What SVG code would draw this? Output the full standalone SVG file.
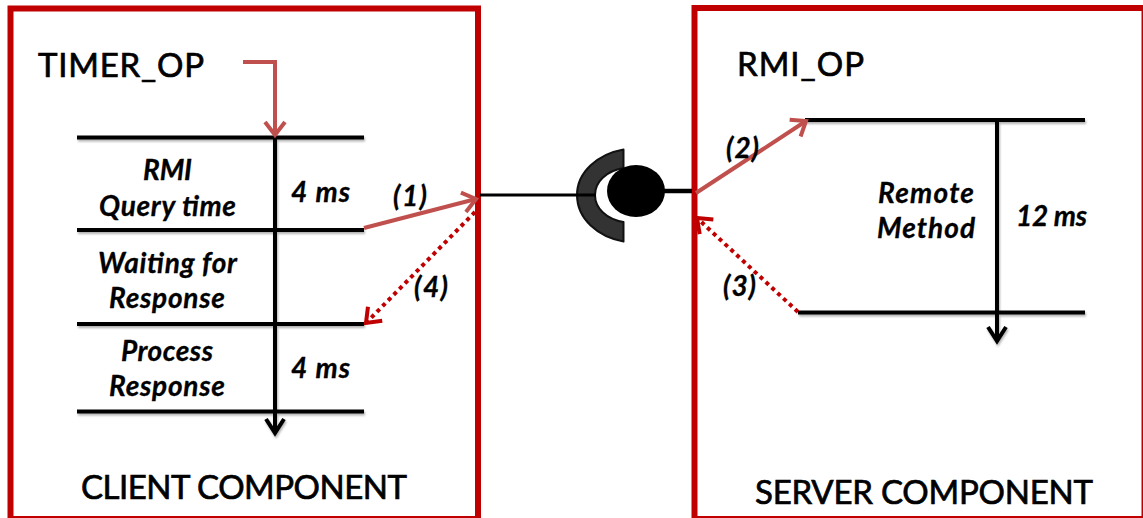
<svg xmlns="http://www.w3.org/2000/svg" width="1143" height="518" viewBox="0 0 1143 518">
  <style>
    text { font-family: Lato, Carlito, "Open Sans", sans-serif; fill: #000; }
    .title { font-size: 33px; font-weight: 400; stroke: #000; stroke-width: 0.7px; }
    .lab { font-size: 28px; font-weight: 700; font-style: italic; stroke: #000; stroke-width: 0.3px; }
    .box { fill: #fff; stroke: #c00000; stroke-width: 6; }
    .bars { filter: url(#sh); }
    .bar { stroke: #000; stroke-width: 4; fill: none; }
    .call { stroke: #c0504d; stroke-width: 4; fill: none; marker-end: url(#ah); }
    .ret { stroke: #c00000; stroke-width: 4; stroke-dasharray: 4 4; fill: none; marker-end: url(#rh); }
  </style>
  <defs>
    <filter id="sh" x="0" y="0" width="1143" height="518" filterUnits="userSpaceOnUse">
      <feDropShadow dx="1" dy="2" stdDeviation="1.2" flood-color="#000" flood-opacity="0.3"/>
    </filter>
    <marker id="ah" markerUnits="userSpaceOnUse" markerWidth="24" markerHeight="24" refX="19" refY="12" orient="auto" overflow="visible">
      <path d="M6 2 L19 12 L6 22" fill="none" stroke="#c0504d" stroke-width="4"/>
    </marker>
    <marker id="rh" markerUnits="userSpaceOnUse" markerWidth="24" markerHeight="24" refX="19" refY="12" orient="auto" overflow="visible">
      <path d="M6 2 L19 12 L6 22" fill="none" stroke="#c00000" stroke-width="4"/>
    </marker>
    <marker id="bh" markerUnits="userSpaceOnUse" markerWidth="24" markerHeight="24" refX="17" refY="12" orient="auto" overflow="visible">
      <path d="M3 3 L17 12 L3 21" fill="none" stroke="#000" stroke-width="4"/>
    </marker>
  </defs>
  <rect width="1143" height="518" fill="#fff"/>

  <g id="client-component">
    <rect class="box" x="10.500" y="8.500" width="467.500" height="510.500"/>
    <text class="title" x="38" y="77" textLength="166">TIMER_OP</text>
    <text class="title" x="81" y="499" textLength="326">CLIENT COMPONENT</text>
  </g>
  <g id="server-component">
    <rect class="box" x="694.500" y="8" width="450" height="511"/>
    <text class="title" x="737" y="76" textLength="127">RMI_OP</text>
    <text class="title" x="755" y="504" textLength="338">SERVER COMPONENT</text>
  </g>

  <g id="client-timeline">
    <g class="bars">
      <path class="bar" d="M77 137.500H364"/>
      <path class="bar" d="M77 230H364"/>
      <path class="bar" d="M77 324H364"/>
      <path class="bar" d="M77 411.500H364"/>
      <path class="bar" d="M275 137V433" marker-end="url(#bh)"/>
    </g>
    <text class="lab" x="143" y="180" textLength="49">RMI</text>
    <text class="lab" x="99" y="216" textLength="137">Query time</text>
    <text class="lab" x="98" y="273" textLength="139">Waiting for</text>
    <text class="lab" x="109" y="308" textLength="116">Response</text>
    <text class="lab" x="121" y="361" textLength="92">Process</text>
    <text class="lab" x="109" y="396" textLength="116">Response</text>
    <text class="lab" x="291" y="202" textLength="59">4 ms</text>
    <text class="lab" x="291" y="378" textLength="59">4 ms</text>
  </g>

  <g id="server-timeline">
    <g class="bars">
      <path class="bar" d="M805 120H1085"/>
      <path class="bar" d="M798 312.500H1085"/>
      <path class="bar" d="M997 120V341" marker-end="url(#bh)"/>
    </g>
    <text class="lab" x="878" y="203" textLength="96">Remote</text>
    <text class="lab" x="877" y="238" textLength="98">Method</text>
    <text class="lab" x="1016" y="226" textLength="71">12 ms</text>
  </g>

  <g id="interface">
    <path d="M623.500 149.500 C598 154 577 172 577 195 C577 219 598 237 623.500 241.500 V222 C606 219 595 208 595 195 C595 182 606 171 623.500 168 Z" fill="#333" stroke="#111" stroke-width="2" stroke-linejoin="round"/>
    <ellipse cx="636" cy="191" rx="29" ry="26" fill="#000"/>
  </g>

  <g id="connectors">
    <path d="M480 195H596" stroke="#000" stroke-width="3" fill="none"/>
    <path d="M664 191H692" stroke="#000" stroke-width="4.500" fill="none"/>
    <path class="call" d="M243 62H275V135"/>
    <path class="call" d="M364 228L476 199"/>
    <path class="call" d="M696 193L806 121"/>
    <path class="ret" d="M798 312L697 218"/>
    <path class="ret" d="M475 212L366 323"/>
    <text class="lab" x="393" y="206" textLength="34">(1)</text>
    <text class="lab" x="726" y="158" textLength="33">(2)</text>
    <text class="lab" x="723" y="296" textLength="33">(3)</text>
    <text class="lab" x="414" y="297" textLength="34">(4)</text>
  </g>
</svg>
